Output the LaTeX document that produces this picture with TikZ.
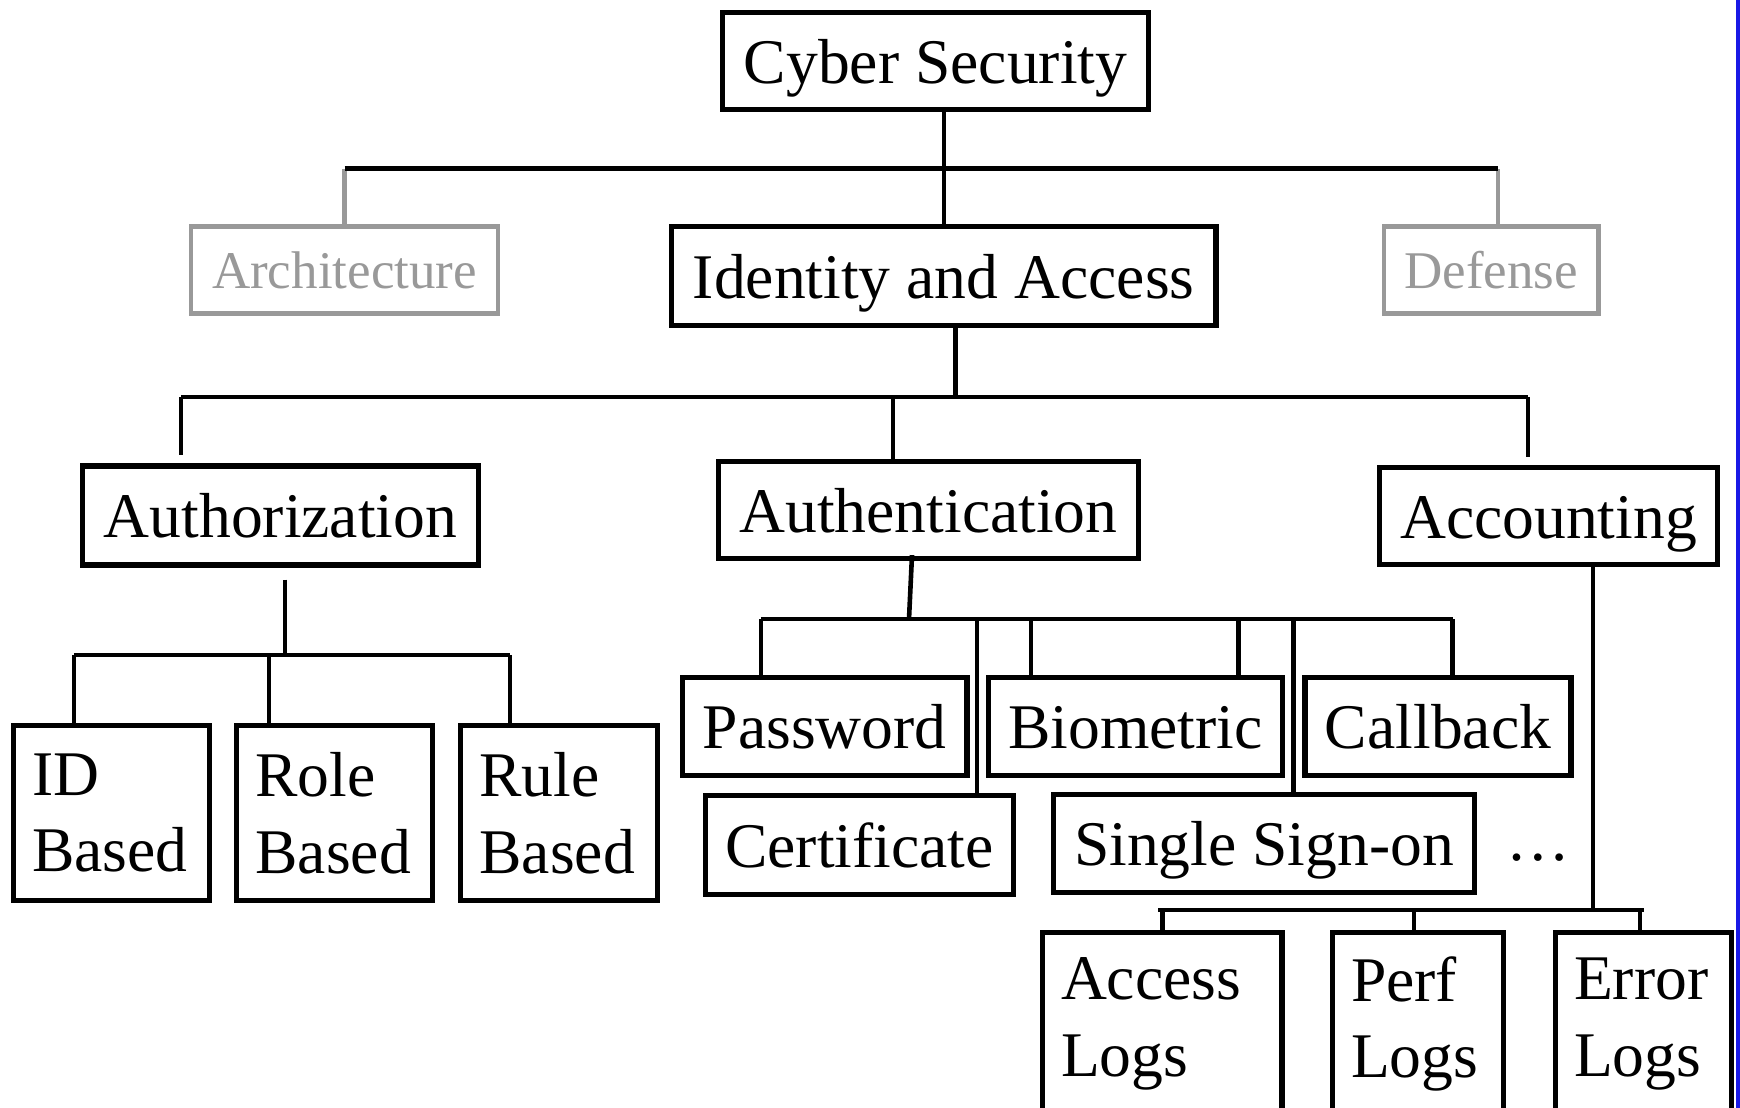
\documentclass[tikz,border=0pt]{standalone}
\usepackage{fontspec}
\setmainfont{Liberation Serif}
\definecolor{greyc}{RGB}{153,153,153}
\definecolor{edgeblue}{RGB}{25,25,230}
\begin{document}
\begin{tikzpicture}[x=1pt,y=-1pt,
  box/.style={draw=black,line width=5.2pt,inner sep=0pt,
    font=\fontsize{63.6pt}{76.7pt}\selectfont,text height=44pt,text depth=0pt},
  gbox/.style={draw=greyc,text=greyc,line width=4.5pt,inner sep=0pt,
    font=\fontsize{53pt}{64pt}\selectfont,text height=36pt,text depth=0pt},
  mbox/.style={draw=black,line width=5.2pt,inner xsep=0pt,inner ysep=0pt,align=left,
    font=\fontsize{63.6pt}{76.7pt}\selectfont},
  conn/.style={draw=black,line width=4.6pt},
  topconn/.style={draw=black,line width=3.8pt},
  greyconn/.style={draw=greyc,line width=4.2pt}]
\useasboundingbox (0,0) rectangle (1740,1108);
\fill[white] (0,0) rectangle (1740,1108);
\clip (0,0) rectangle (1740,1108);
\fill[edgeblue] (1736,0) rectangle (1740,1108);

% level 0/1
\node[box,minimum width=426pt,minimum height=97pt] (cyber) at (935.5,61) {Cyber Security};
\node[gbox,minimum width=307pt,minimum height=87pt] (arch) at (344.5,270) {Architecture};
\node[box,minimum width=544.5pt,minimum height=99pt] (ident) at (943.7,276) {Identity and Access};
\node[gbox,minimum width=214.5pt,minimum height=87pt] (defe) at (1491,270) {Defense};

% level 2
\node[box,minimum width=396pt,minimum height=99pt] (authz) at (280.5,515.5) {Authorization};
\node[box,minimum width=420pt,minimum height=97pt] (authn) at (928.5,510) {Authentication};
\node[box,minimum width=338pt,minimum height=97pt] (acct) at (1548.5,516) {Accounting};

% authorization children
\node[mbox,minimum width=196pt,minimum height=175pt,text width=159pt] (idb) at (111.5,813) {ID\\Based};
\node[mbox,minimum width=196pt,minimum height=175pt,text width=158pt] (roleb) at (334.5,813) {Role\\Based};
\node[mbox,minimum width=197pt,minimum height=175pt,text width=159pt] (ruleb) at (559,813) {Rule\\Based};

% authentication children
\node[box,minimum width=284.5pt,minimum height=98pt] (pass) at (824.8,726.5) {Password};
\node[box,minimum width=294.5pt,minimum height=98pt] (bio) at (1135.4,726.5) {Biometric};
\node[box,minimum width=266pt,minimum height=98pt] (callb) at (1438,726.5) {Callback};
\node[box,minimum width=308pt,minimum height=99pt] (cert) at (859.4,845) {Certificate};
\node[box,minimum width=421pt,minimum height=98pt] (sso) at (1264,843.5) {Single Sign-on};
\node[font=\fontsize{63.6pt}{76.7pt}\selectfont,anchor=base,inner sep=0pt] (dots) at (1538,860) {…};

% accounting children
\node[mbox,minimum width=239.5pt,minimum height=183pt,text width=202.6pt] (accl) at (1162.3,1024) {Access\\Logs};
\node[mbox,minimum width=171pt,minimum height=183pt,text width=134pt] (perfl) at (1418,1024) {Perf\\Logs};
\node[mbox,minimum width=176pt,minimum height=183pt,text width=139pt] (errl) at (1643.5,1024) {Error\\Logs};

% connectors level 1
\coordinate (b1) at (0,168.5);
\draw[topconn] (cyber.south -| ident.north) -- (ident.north);
\draw[greyconn] (arch.north) -- (arch.north |- b1);
\draw[greyconn] ([xshift=7pt]defe.north) -- ([xshift=7pt]defe.north |- b1);
\draw[conn] (arch.north |- b1) -- ([xshift=7pt]defe.north |- b1);

% connectors level 2
\coordinate (b2) at (0,397);
\draw[conn] ([xshift=12pt]ident.south) -- ([xshift=12pt]ident.south |- b2);
\draw[conn] ([xshift=-99.5pt]authz.north |- b2) -- ([xshift=-20.5pt]acct.north |- b2);
\draw[conn] ([xshift=-99.5pt]authz.north |- b2) -- ([xshift=-99.5pt,yshift=8pt]authz.north);
\draw[conn] ([xshift=-35.5pt]authn.north |- b2) -- ([xshift=-35.5pt]authn.north);
\draw[conn] ([xshift=-20.5pt]acct.north |- b2) -- ([xshift=-20.5pt,yshift=8pt]acct.north);

% authorization connectors
\coordinate (b3) at (0,655);
\draw[conn] ([xshift=4.5pt,yshift=-12pt]authz.south) -- ([xshift=4.5pt]authz.south |- b3);
\draw[conn] ([xshift=-37.5pt]idb.north |- b3) -- ([xshift=-49pt]ruleb.north |- b3);
\draw[conn] ([xshift=-37.5pt]idb.north |- b3) -- ([xshift=-37.5pt]idb.north);
\draw[conn] ([xshift=-65.5pt]roleb.north |- b3) -- ([xshift=-65.5pt]roleb.north);
\draw[conn] ([xshift=-49pt]ruleb.north |- b3) -- ([xshift=-49pt]ruleb.north);

% authentication connectors
\coordinate (b4) at (0,619);
\draw[conn] ([xshift=-16.5pt,yshift=6pt]authn.south) -- ([xshift=-19.5pt]authn.south |- b4);
\draw[conn] ([xshift=-64pt]pass.north |- b4) -- ([xshift=14.7pt]callb.north |- b4);
\draw[conn] ([xshift=-64pt]pass.north |- b4) -- ([xshift=-64pt]pass.north);
\draw[conn] ([xshift=117.6pt]cert.north |- b4) -- ([xshift=117.6pt]cert.north);
\draw[conn] ([xshift=-104.4pt]bio.north |- b4) -- ([xshift=-104.4pt]bio.north);
\draw[conn] ([xshift=103.1pt]bio.north |- b4) -- ([xshift=103.1pt]bio.north);
\draw[conn] ([xshift=29.6pt]sso.north |- b4) -- ([xshift=29.6pt]sso.north);
\draw[conn] ([xshift=14.7pt]callb.north |- b4) -- ([xshift=14.7pt]callb.north);

% accounting connectors
\coordinate (b5) at (0,910);
\draw[conn] ([xshift=44.5pt]acct.south) -- ([xshift=44.5pt]acct.south |- b5);
\draw[conn] ([xshift=-4pt]accl.north |- b5) -- (errl.north |- b5);
\draw[conn] (accl.north |- b5) -- (accl.north);
\draw[conn] ([xshift=-4pt]perfl.north |- b5) -- ([xshift=-4pt]perfl.north);
\draw[conn] ([xshift=-3.5pt]errl.north |- b5) -- ([xshift=-3.5pt]errl.north);
\end{tikzpicture}
\end{document}
